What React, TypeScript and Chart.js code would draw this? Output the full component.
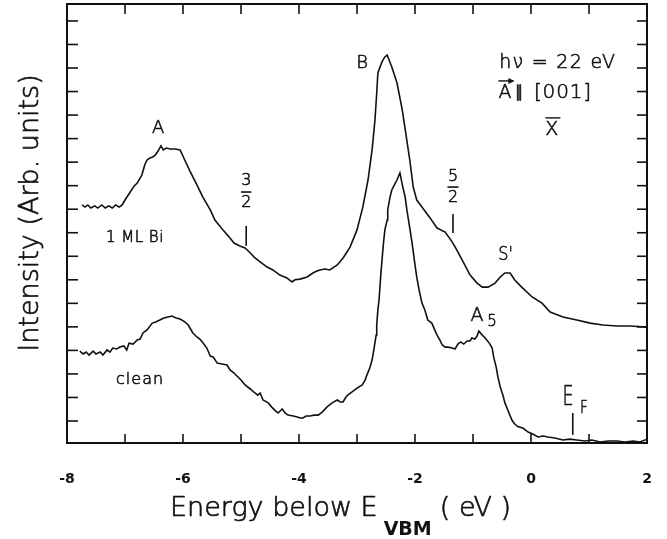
import React, { useEffect, useRef } from "react";
import { Chart, registerables } from "chart.js";

Chart.register(...registerables);

// Photoemission spectra, 1 ML Bi covered surface (upper trace)
const mlBiEnergy = [
  -7.74, -7.69, -7.64, -7.59, -7.52, -7.47, -7.4, -7.34, -7.28, -7.22, -7.16, -7.1, -7.05, -7.0,
  -6.91, -6.84, -6.79, -6.71, -6.66, -6.62, -6.57, -6.52, -6.48, -6.43, -6.38, -6.34, -6.29, -6.22,
  -6.14, -6.05, -5.97, -5.88, -5.76, -5.66, -5.53, -5.45, -5.31, -5.19, -5.12, -5.02, -4.93, -4.84,
  -4.76, -4.67, -4.55, -4.45, -4.33, -4.21, -4.12, -4.07, -3.98, -3.86, -3.76, -3.69, -3.64, -3.55,
  -3.47, -3.34, -3.24, -3.12, -3.0, -2.9, -2.81, -2.74, -2.69, -2.66, -2.64, -2.57, -2.52, -2.48,
  -2.4, -2.31, -2.22, -2.16, -2.09, -2.03, -1.97, -1.88, -1.74, -1.62, -1.48, -1.36, -1.28, -1.17,
  -1.05, -0.93, -0.84, -0.74, -0.62, -0.53, -0.45, -0.36, -0.28, -0.16, 0.02, 0.19, 0.33, 0.55,
  0.79, 1.02, 1.24, 1.48, 1.71, 2.0,
];
const mlBiIntensity = [
  9.18, 9.09, 9.18, 9.05, 9.14, 9.05, 9.18, 9.05, 9.14, 9.05, 9.18, 9.09, 9.18, 9.39,
  9.73, 9.99, 10.11, 10.45, 10.88, 11.09, 11.18, 11.22, 11.3, 11.47, 11.69, 11.52, 11.6, 11.56,
  11.56, 11.52, 11.09, 10.62, 10.03, 9.52, 8.97, 8.54, 8.12, 7.78, 7.56, 7.44, 7.35, 7.14,
  6.93, 6.76, 6.54, 6.42, 6.2, 6.08, 5.91, 6.0, 6.03, 6.12, 6.29, 6.37, 6.42, 6.46,
  6.42, 6.63, 6.93, 7.39, 8.12, 9.09, 10.24, 11.52, 12.79, 13.94, 14.79, 15.26, 15.47, 15.55,
  15.04, 14.36, 13.22, 12.24, 11.09, 9.94, 9.39, 9.09, 8.63, 8.2, 8.03, 7.61, 7.27, 6.76,
  6.2, 5.86, 5.69, 5.69, 5.86, 6.12, 6.29, 6.29, 5.99, 5.69, 5.27, 5.01, 4.63, 4.42,
  4.29, 4.16, 4.08, 4.04, 4.04, 3.99,
];

// Clean surface (lower trace)
const cleanEnergy = [
  -7.78, -7.72, -7.67, -7.62, -7.55, -7.5, -7.43, -7.38, -7.31, -7.26, -7.21, -7.14, -7.09, -7.02,
  -6.97, -6.93, -6.86, -6.79, -6.74, -6.69, -6.62, -6.53, -6.47, -6.4, -6.33, -6.26, -6.19, -6.12,
  -6.05, -5.97, -5.91, -5.83, -5.76, -5.71, -5.64, -5.59, -5.53, -5.48, -5.41, -5.33, -5.24, -5.19,
  -5.12, -5.07, -5.0, -4.93, -4.84, -4.76, -4.71, -4.67, -4.62, -4.53, -4.47, -4.4, -4.36, -4.29,
  -4.24, -4.19, -4.1, -4.03, -3.98, -3.93, -3.88, -3.81, -3.74, -3.67, -3.6, -3.52, -3.43, -3.34,
  -3.29, -3.24, -3.19, -3.16, -3.09, -3.0, -2.91, -2.86, -2.83, -2.78, -2.74, -2.71, -2.67, -2.66,
  -2.64, -2.62, -2.59, -2.55, -2.52, -2.48, -2.47, -2.43, -2.4, -2.34, -2.31, -2.26, -2.21, -2.17,
  -2.14, -2.09, -2.05, -2.0, -1.97, -1.93, -1.88, -1.83, -1.78, -1.71, -1.66, -1.62, -1.57, -1.53,
  -1.48, -1.43, -1.36, -1.31, -1.26, -1.21, -1.16, -1.1, -1.05, -1.02, -0.97, -0.93, -0.9, -0.84,
  -0.79, -0.72, -0.67, -0.64, -0.6, -0.57, -0.53, -0.48, -0.45, -0.4, -0.33, -0.28, -0.22, -0.14,
  -0.05, 0.03, 0.12, 0.21, 0.29, 0.41, 0.55, 0.67, 0.79, 0.93, 1.05, 1.19, 1.33, 1.48,
  1.62, 1.76, 1.88, 2.0,
];
const cleanIntensity = [
  2.97, 2.85, 2.93, 2.8, 2.97, 2.85, 2.93, 2.8, 3.02, 2.93, 3.1, 3.06, 3.14, 3.19,
  3.02, 3.31, 3.27, 3.44, 3.48, 3.74, 3.87, 4.16, 4.21, 4.29, 4.38, 4.42, 4.46, 4.38,
  4.33, 4.21, 4.08, 3.74, 3.57, 3.48, 3.27, 3.1, 2.76, 2.72, 2.46, 2.42, 2.38, 2.17,
  2.04, 1.91, 1.74, 1.53, 1.36, 1.19, 1.1, 1.19, 0.89, 0.77, 0.59, 0.42, 0.34, 0.51,
  0.34, 0.25, 0.21, 0.17, 0.13, 0.13, 0.21, 0.21, 0.25, 0.25, 0.38, 0.59, 0.77, 0.89,
  0.81, 0.81, 1.02, 1.1, 1.23, 1.4, 1.53, 1.74, 1.95, 2.25, 2.59, 3.02, 3.65, 4.08,
  4.72, 5.14, 6.2, 7.39, 8.12, 8.54, 8.97, 9.52, 9.82, 10.11, 10.24, 10.54, 9.94, 9.52,
  8.97, 8.2, 7.56, 6.63, 6.12, 5.57, 5.01, 4.72, 4.29, 4.16, 3.87, 3.65, 3.44, 3.23,
  3.14, 3.14, 3.1, 3.06, 3.27, 3.36, 3.27, 3.4, 3.4, 3.53, 3.48, 3.61, 3.82, 3.65,
  3.53, 3.31, 3.1, 2.68, 2.29, 1.87, 1.44, 1.06, 0.77, 0.47, 0.04, -0.13, -0.25, -0.3,
  -0.47, -0.55, -0.68, -0.64, -0.68, -0.72, -0.81, -0.77, -0.81, -0.85, -0.81, -0.89, -0.85, -0.85,
  -0.89, -0.85, -0.89, -0.77,
];

const energyTicks = [-8, -7, -6, -5, -4, -3, -2, -1, 0, 1, 2];
const energyLabels = [-8, -6, -4, -2, 0, 2];
const intensityTicks = [0, 1, 2, 3, 4, 5, 6, 7, 8, 9, 10, 11, 12, 13, 14, 15, 16, 17];

const FONT = "'DejaVu Sans', 'Liberation Sans', sans-serif";
const INK = "#111";

type Note = {
  text: string;
  x: number;
  y: number;
  size: number;
  squeeze?: number;
  spacing?: number;
  mark?: "arrow" | "bar";
};

// Peak labels and the photon / polarisation notes, placed in data coordinates
const notes: Note[] = [
  { text: "A", x: -6.43, y: 12.45, size: 18 },
  { text: "B", x: -2.91, y: 15.21, size: 18 },
  { text: "hν = 22 eV", x: 0.46, y: 15.21, size: 19, spacing: 1.3 },
  { text: "A", x: -0.45, y: 13.94, size: 19, mark: "arrow" },
  { text: "∥", x: -0.2, y: 13.94, size: 16 },
  { text: "[001]", x: 0.55, y: 13.94, size: 20, spacing: 0.8 },
  { text: "X", x: 0.36, y: 12.37, size: 19, mark: "bar" },
  { text: "3", x: -4.91, y: 10.2, size: 16 },
  { text: "2", x: -4.91, y: 9.26, size: 16 },
  { text: "5", x: -1.345, y: 10.37, size: 16 },
  { text: "2", x: -1.345, y: 9.48, size: 16 },
  { text: "S'", x: -0.44, y: 7.05, size: 19, squeeze: 0.85 },
  { text: "A", x: -0.93, y: 4.46, size: 19 },
  { text: "5", x: -0.67, y: 4.21, size: 15 },
  { text: "1 ML Bi", x: -6.83, y: 7.78, size: 15, spacing: 0.5 },
  { text: "clean", x: -6.74, y: 1.74, size: 16, spacing: 1 },
  { text: "E", x: 0.64, y: 0.98, size: 27, squeeze: 0.65 },
  { text: "F", x: 0.91, y: 0.55, size: 18, squeeze: 0.75 },
];

// Short strokes: fraction bars and the vertical markers under them
const strokes: [number, number, number, number][] = [
  [-5.0, 9.73, -4.82, 9.73],
  [-4.91, 8.29, -4.91, 7.44],
  [-1.44, 9.94, -1.25, 9.94],
  [-1.345, 8.8, -1.345, 7.99],
  [0.72, 0.34, 0.72, -0.59],
];

function line(ctx: CanvasRenderingContext2D, x1: number, y1: number, x2: number, y2: number) {
  ctx.beginPath();
  ctx.moveTo(x1, y1);
  ctx.lineTo(x2, y2);
  ctx.stroke();
}

// Thin plotter-style lettering: a light face with a fine outline on top
function penText(ctx: CanvasRenderingContext2D, text: string, x: number, y: number, size: number, pen = 0.7) {
  ctx.font = `300 ${size}px ${FONT}`;
  ctx.fillText(text, x, y);
  ctx.lineWidth = pen;
  ctx.lineJoin = "round";
  ctx.strokeText(text, x, y);
}

const framePlugin = {
  id: "frame",
  afterDraw(chart: any) {
    const { ctx, chartArea, scales } = chart;
    const { left, right, top, bottom } = chartArea;
    const xs = scales.x;
    const ys = scales.y;
    ctx.save();
    ctx.strokeStyle = INK;
    ctx.lineCap = "butt";
    ctx.lineWidth = 2;
    ctx.strokeRect(left, top, right - left, bottom - top);
    ctx.lineWidth = 1.6;
    energyTicks.forEach((v) => {
      if (v === energyTicks[0] || v === energyTicks[energyTicks.length - 1]) return;
      const px = xs.getPixelForValue(v);
      line(ctx, px, bottom, px, bottom - 9);
      line(ctx, px, top, px, top + 10);
    });
    intensityTicks.forEach((v) => {
      const py = ys.getPixelForValue(v);
      line(ctx, left, py, left + 11, py);
      line(ctx, right, py, right - 10, py);
    });
    ctx.restore();
  },
};

const notesPlugin = {
  id: "notes",
  afterDatasetsDraw(chart: any) {
    const { ctx, scales } = chart;
    const xs = scales.x;
    const ys = scales.y;
    ctx.save();
    ctx.fillStyle = INK;
    ctx.strokeStyle = INK;
    notes.forEach((n) => {
      const px = xs.getPixelForValue(n.x);
      const py = ys.getPixelForValue(n.y);
      ctx.save();
      ctx.translate(px, py);
      ctx.scale(n.squeeze ?? 1, 1);
      (ctx as any).letterSpacing = `${n.spacing ?? 0}px`;
      ctx.textAlign = "center";
      ctx.textBaseline = "middle";
      penText(ctx, n.text, 0, 0, n.size, 0.6);
      if (n.mark) {
        const w = ctx.measureText(n.text).width;
        const yTop = -n.size * 0.37 - 5;
        ctx.lineWidth = 1.4;
        line(ctx, -w / 2, yTop, w / 2 + 2, yTop);
        if (n.mark === "arrow") {
          ctx.beginPath();
          ctx.moveTo(w / 2 + 3, yTop);
          ctx.lineTo(w / 2 - 3, yTop - 3);
          ctx.lineTo(w / 2 - 3, yTop + 3);
          ctx.closePath();
          ctx.fill();
        }
      }
      ctx.restore();
    });
    ctx.lineWidth = 1.6;
    strokes.forEach(([x1, y1, x2, y2]) => {
      line(ctx, xs.getPixelForValue(x1), ys.getPixelForValue(y1), xs.getPixelForValue(x2), ys.getPixelForValue(y2));
    });
    ctx.restore();
  },
};

const titlesPlugin = {
  id: "titles",
  afterDraw(chart: any) {
    const { ctx, chartArea } = chart;
    const { left, top, bottom } = chartArea;
    ctx.save();
    ctx.fillStyle = INK;
    ctx.strokeStyle = INK;
    ctx.textAlign = "left";
    ctx.textBaseline = "alphabetic";

    // x-axis title with the VBM subscript
    const base = bottom + 73;
    let cx = left + 103;
    const main = "Energy below E";
    penText(ctx, main, cx, base, 27);
    cx += ctx.measureText(main).width + 6;
    ctx.font = `bold 19px ${FONT}`;
    ctx.fillText("VBM", cx, base + 19);
    cx += ctx.measureText("VBM").width + 8;
    penText(ctx, "( eV )", cx, base, 27);

    // y-axis title
    ctx.translate(38, top + 209);
    ctx.rotate(-Math.PI / 2);
    ctx.textAlign = "center";
    penText(ctx, "Intensity (Arb. units)", 0, 0, 27);
    ctx.restore();
  },
};

export default function App() {
  const canvasRef = useRef<HTMLCanvasElement>(null);

  useEffect(() => {
    const canvas = canvasRef.current;
    if (!canvas) return;
    const chart = new Chart(canvas, {
      type: "line",
      data: {
        datasets: [
          {
            label: "1 ML Bi",
            data: mlBiEnergy.map((x, i) => ({ x, y: mlBiIntensity[i] })),
            borderColor: INK,
            borderWidth: 1.6,
            pointRadius: 0,
            tension: 0,
            fill: false,
          },
          {
            label: "clean",
            data: cleanEnergy.map((x, i) => ({ x, y: cleanIntensity[i] })),
            borderColor: INK,
            borderWidth: 1.6,
            pointRadius: 0,
            tension: 0,
            fill: false,
          },
        ],
      },
      options: {
        responsive: false,
        devicePixelRatio: 1,
        animation: false,
        layout: { padding: { top: 4, right: 20, left: 0, bottom: 0 } },
        plugins: { legend: { display: false }, tooltip: { enabled: false } },
        scales: {
          x: {
            type: "linear",
            min: -8,
            max: 2,
            afterBuildTicks: (s: any) => {
              s.ticks = energyTicks.map((v) => ({ value: v }));
            },
            afterFit: (s: any) => {
              s.height = 96;
              s.paddingLeft = 0;
              s.paddingRight = 0;
            },
            grid: { display: false, drawTicks: false },
            border: { display: false },
            ticks: {
              autoSkip: false,
              maxRotation: 0,
              padding: 28,
              color: INK,
              font: { family: FONT, size: 14, weight: "bold" },
              callback: (v: any) => (energyLabels.includes(Number(v)) ? String(v) : ""),
            },
          },
          y: {
            type: "linear",
            min: -0.935,
            max: 17.72,
            afterBuildTicks: (s: any) => {
              s.ticks = intensityTicks.map((v) => ({ value: v }));
            },
            afterFit: (s: any) => {
              s.width = 67;
            },
            grid: { display: false, drawTicks: false },
            border: { display: false },
            ticks: { display: false },
          },
        },
      },
      plugins: [framePlugin, notesPlugin, titlesPlugin],
    } as any);
    return () => chart.destroy();
  }, []);

  return (
    <div style={{ position: "fixed", left: 0, top: 0, width: 667, height: 539, background: "#fff" }}>
      <canvas ref={canvasRef} width={667} height={539} style={{ display: "block", width: 667, height: 539 }} />
    </div>
  );
}
